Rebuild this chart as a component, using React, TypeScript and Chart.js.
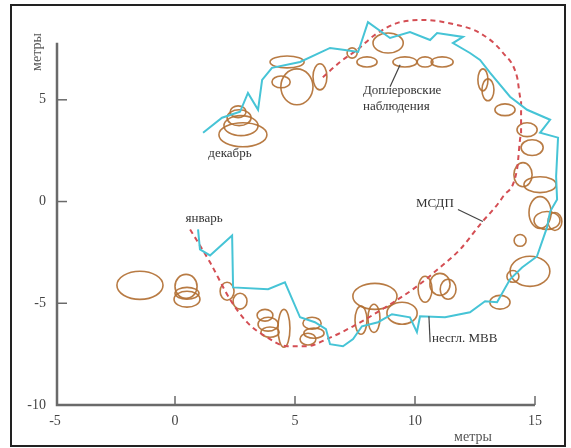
import React, { useEffect, useRef } from 'react';
import { Chart, registerables } from 'chart.js';

Chart.register(...registerables);

// ---- axis ticks ----
const xTicks = [-5, 0, 5, 10, 15];
const yTicks = [-10, -5, 0, 5];

// ---- несгл. МВВ (cyan track), from январь to декабрь ----
const mvvX = [0.96, 1.04, 1.46, 2.38, 2.42, 3.88, 4.58, 5.21, 5.83, 6.29, 6.46, 7.0, 7.42, 7.79, 8.46, 9.04, 9.79, 10.08, 10.21, 11.25, 12.29, 12.92, 13.42, 13.96, 14.46, 15.08, 15.5, 15.63, 15.92, 15.88, 15.96, 15.21, 15.63, 14.67, 13.96, 13.13, 12.71, 12.29, 11.58, 12.0, 10.92, 10.63, 9.79, 8.96, 8.04, 7.63, 7.08, 6.46, 5.21, 4.04, 3.63, 3.46, 3.04, 2.71, 1.96, 1.17];
const mvvY = [-1.37, -2.35, -2.65, -1.67, -4.22, -4.31, -3.97, -5.69, -5.93, -6.27, -7.01, -7.11, -6.76, -6.13, -5.93, -5.54, -5.69, -6.42, -5.64, -5.69, -5.44, -4.9, -4.95, -3.82, -3.24, -2.7, -1.27, -0.49, 0.1, 1.23, 3.14, 3.38, 4.02, 4.51, 5.15, 6.32, 6.96, 7.3, 7.79, 8.09, 8.28, 7.94, 8.33, 8.04, 8.82, 7.35, 7.45, 7.55, 6.86, 6.57, 5.98, 4.51, 5.34, 4.41, 4.12, 3.38];

// ---- МСДП (dashed red curve) ----
const msdpX = [0.63, 1.46, 2.29, 3.0, 3.83, 4.67, 5.5, 6.33, 7.42, 8.83, 10.08, 11.04, 11.88, 12.71, 13.67, 14.25, 14.42, 14.42, 14.25, 13.67, 12.71, 11.75, 10.33, 9.25, 8.33, 7.58, 6.88, 6.04];
const msdpY = [-1.37, -2.99, -4.8, -5.93, -6.67, -7.11, -7.11, -6.76, -6.13, -5.15, -4.17, -3.24, -2.35, -1.13, 0.25, 1.57, 3.28, 5.0, 6.13, 7.3, 8.28, 8.68, 8.92, 8.77, 8.19, 7.45, 6.86, 5.98];

// ---- Доплеровские наблюдения (ellipses: centre and half-axes, metres) ----
const ellCx = [-1.46, 0.46, 0.5, 0.5, 2.17, 2.71, 3.75, 3.88, 3.96, 4.54, 5.71, 5.79, 5.54, 8.33, 7.75, 8.29, 9.46, 10.42, 11.04, 11.38, 13.54, 14.79, 14.08, 14.38, 15.21, 15.5, 15.83, 15.21, 14.5, 14.88, 14.67, 13.75, 12.83, 13.04, 11.13, 10.42, 9.58, 8.88, 8.0, 7.38, 6.04, 5.08, 4.67, 4.42, 2.83, 2.75, 2.67, 2.63];
const ellCy = [-4.12, -4.17, -4.8, -4.51, -4.41, -4.9, -5.59, -6.03, -6.42, -6.23, -5.98, -6.47, -6.76, -4.66, -5.83, -5.74, -5.49, -4.31, -4.07, -4.31, -4.95, -3.43, -3.68, -1.91, -0.54, -0.93, -0.98, 0.83, 1.32, 2.65, 3.53, 4.51, 5.98, 5.49, 6.86, 6.86, 6.86, 7.79, 6.86, 7.3, 6.13, 5.64, 6.86, 5.88, 3.28, 3.73, 4.12, 4.41];
const ellRx = [0.96, 0.46, 0.54, 0.5, 0.29, 0.29, 0.33, 0.42, 0.38, 0.25, 0.38, 0.42, 0.33, 0.92, 0.25, 0.25, 0.63, 0.29, 0.42, 0.33, 0.42, 0.83, 0.25, 0.25, 0.46, 0.54, 0.29, 0.67, 0.38, 0.46, 0.42, 0.42, 0.21, 0.25, 0.46, 0.33, 0.5, 0.63, 0.42, 0.21, 0.29, 0.67, 0.71, 0.38, 1.0, 0.71, 0.5, 0.33];
const ellRy = [0.69, 0.59, 0.39, 0.29, 0.44, 0.39, 0.29, 0.34, 0.25, 0.93, 0.29, 0.25, 0.29, 0.64, 0.69, 0.69, 0.54, 0.64, 0.54, 0.49, 0.34, 0.74, 0.29, 0.29, 0.78, 0.44, 0.44, 0.39, 0.59, 0.39, 0.34, 0.29, 0.54, 0.54, 0.25, 0.25, 0.25, 0.49, 0.25, 0.25, 0.64, 0.88, 0.29, 0.29, 0.59, 0.49, 0.39, 0.29];

// ---- text labels (anchor in metres) ----
const labelText = ['декабрь', 'январь', 'Доплеровские', 'наблюдения', 'МСДП', 'несгл. МВВ'];
const labelX = [2.29, 1.21, 7.83, 7.83, 10.83, 10.71];
const labelY = [2.35, -0.83, 5.44, 4.66, -0.1, -6.72];
const labelAlign = ['center', 'center', 'left', 'left', 'center', 'left'];

// leader lines [x1, y1, x2, y2]
const leaders = [
  [8.96, 5.64, 9.38, 6.72],
  [11.79, -0.39, 12.83, -0.98],
  [10.58, -5.64, 10.63, -6.91],
];

const yAxisTop = 7.8;
const SERIF = '"Liberation Serif", "DejaVu Serif", serif';

const figurePlugin = {
  id: 'figurePlugin',
  beforeDatasetsDraw(chart: any) {
    const { ctx, scales } = chart;
    const x = scales.x;
    const y = scales.y;
    ctx.save();
    ctx.strokeStyle = 'rgba(178,112,52,0.92)';
    ctx.lineWidth = 1.6;
    for (let i = 0; i < ellCx.length; i++) {
      const cx = x.getPixelForValue(ellCx[i]);
      const cy = y.getPixelForValue(ellCy[i]);
      const rx = Math.abs(x.getPixelForValue(ellCx[i] + ellRx[i]) - cx);
      const ry = Math.abs(y.getPixelForValue(ellCy[i] + ellRy[i]) - cy);
      ctx.beginPath();
      ctx.ellipse(cx, cy, rx, ry, 0, 0, Math.PI * 2);
      ctx.stroke();
    }
    ctx.restore();
  },
  afterDraw(chart: any) {
    const { ctx, scales } = chart;
    const x = scales.x;
    const y = scales.y;
    ctx.save();
    // axes
    ctx.strokeStyle = '#6a6a6a';
    ctx.lineWidth = 2.5;
    const x0 = x.getPixelForValue(-5) + 2;
    const y0 = y.getPixelForValue(-10);
    ctx.beginPath();
    ctx.moveTo(x0, y.getPixelForValue(yAxisTop));
    ctx.lineTo(x0, y0);
    ctx.lineTo(x.getPixelForValue(15), y0);
    ctx.stroke();
    ctx.lineWidth = 1.5;
    for (const v of yTicks) {
      if (v === -10) continue;
      const py = y.getPixelForValue(v);
      ctx.beginPath();
      ctx.moveTo(x0, py);
      ctx.lineTo(x0 + 10, py);
      ctx.stroke();
    }
    for (const v of xTicks) {
      if (v === -5) continue;
      const px = x.getPixelForValue(v);
      ctx.beginPath();
      ctx.moveTo(px, y0);
      ctx.lineTo(px, y0 - 9);
      ctx.stroke();
    }
    // leader lines
    ctx.strokeStyle = '#444';
    ctx.lineWidth = 1.2;
    for (const l of leaders) {
      ctx.beginPath();
      ctx.moveTo(x.getPixelForValue(l[0]), y.getPixelForValue(l[1]));
      ctx.lineTo(x.getPixelForValue(l[2]), y.getPixelForValue(l[3]));
      ctx.stroke();
    }
    // labels
    ctx.fillStyle = '#333';
    ctx.font = `13px ${SERIF}`;
    ctx.textBaseline = 'middle';
    for (let i = 0; i < labelText.length; i++) {
      ctx.textAlign = labelAlign[i] as CanvasTextAlign;
      ctx.fillText(labelText[i], x.getPixelForValue(labelX[i]), y.getPixelForValue(labelY[i]));
    }
    // axis titles
    ctx.fillStyle = '#555';
    ctx.font = `14px ${SERIF}`;
    ctx.textAlign = 'center';
    ctx.fillText('метры', 473, 437);
    ctx.save();
    ctx.translate(37, 52);
    ctx.rotate(-Math.PI / 2);
    ctx.fillText('метры', 0, 0);
    ctx.restore();
    // frame
    ctx.strokeStyle = '#222';
    ctx.lineWidth = 2;
    ctx.strokeRect(11, 5, 554, 441);
    ctx.restore();
  },
};

export default function App() {
  const ref = useRef<HTMLCanvasElement>(null);
  useEffect(() => {
    if (!ref.current) return;
    const chart = new Chart(ref.current, {
      type: 'scatter',
      data: {
        datasets: [
          {
            label: 'несгл. МВВ',
            data: mvvX.map((v, i) => ({ x: v, y: mvvY[i] })),
            showLine: true,
            borderColor: 'rgb(70,196,214)',
            borderWidth: 2,
            pointRadius: 0,
            tension: 0,
            clip: false,
          },
          {
            label: 'МСДП',
            data: msdpX.map((v, i) => ({ x: v, y: msdpY[i] })),
            showLine: true,
            borderColor: 'rgb(212,78,84)',
            borderWidth: 2,
            borderDash: [5, 4],
            pointRadius: 0,
            tension: 0.4,
            cubicInterpolationMode: 'monotone' as any,
            clip: false,
          },
        ],
      },
      options: {
        animation: false,
        responsive: true,
        maintainAspectRatio: false,
        layout: { padding: { left: 0, right: 0, top: 7, bottom: 0 } },
        plugins: { legend: { display: false }, tooltip: { enabled: false } },
        scales: {
          x: {
            type: 'linear',
            min: -5,
            max: 16.5,
            grid: { display: false, drawTicks: false },
            border: { display: false },
            afterBuildTicks: (s: any) => { s.ticks = xTicks.map((v) => ({ value: v })); },
            afterFit: (s: any) => { s.height = 43; },
            ticks: { font: { family: SERIF, size: 14 }, color: '#444', padding: 8, autoSkip: false, maxRotation: 0 },
          },
          y: {
            type: 'linear',
            min: -10,
            max: 9.05,
            grid: { display: false, drawTicks: false },
            border: { display: false },
            afterBuildTicks: (s: any) => { s.ticks = yTicks.map((v) => ({ value: v })); },
            afterFit: (s: any) => { s.width = 55; },
            ticks: { font: { family: SERIF, size: 14 }, color: '#444', padding: 9, autoSkip: false },
          },
        },
      },
      plugins: [figurePlugin],
    });
    return () => chart.destroy();
  }, []);
  return (
    <div style={{ position: 'fixed', left: 0, top: 0, width: 571, height: 448, background: '#fff' }}>
      <canvas ref={ref} />
    </div>
  );
}
